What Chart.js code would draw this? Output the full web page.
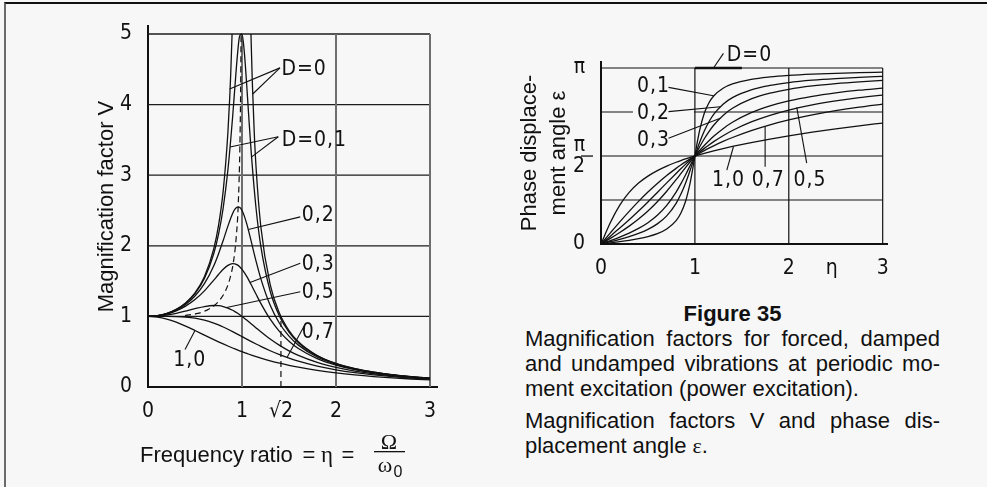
<!DOCTYPE html>
<html>
<head>
<meta charset="utf-8">
<script src="https://cdn.jsdelivr.net/npm/chart.js@4.4.1/dist/chart.umd.min.js"></script>
<style>
html,body{margin:0;padding:0;background:#f7f7f7;}
body{width:987px;height:487px;position:relative;overflow:hidden;}
#frame{position:absolute;left:4px;top:2px;width:1100px;height:700px;border-top:2px solid #111;border-left:2px solid #6a6a6a;}
#c1{position:absolute;left:0;top:0;}
#c2{position:absolute;left:480px;top:0;}
#cap{position:absolute;left:525px;top:301px;width:415px;font-family:'Liberation Sans',Arial,sans-serif;font-size:22px;line-height:25px;color:#111;}
#cap .t{text-align:center;font-weight:bold;}
#cap .j{text-align:justify;text-align-last:justify;}
#cap .p2{margin-top:7px;}
#cap .g{font-family:'Liberation Serif','DejaVu Serif',serif;}
</style>
</head>
<body>
<div id="frame"></div>
<canvas id="c1" width="480" height="487"></canvas>
<canvas id="c2" width="507" height="290"></canvas>
<div id="cap">
  <div class="t">Figure 35</div>
  <div class="j">Magnification factors for forced, damped</div>
  <div class="j">and undamped vibrations at periodic mo-</div>
  <div>ment excitation (power excitation).</div>
  <div class="j p2">Magnification factors V and phase dis-</div>
  <div>placement angle <span class="g">ε</span>.</div>
</div>
<script>
// ---------- Left chart: magnification factor V over eta ----------
const etaGrid = [0,0.1,0.2,0.3,0.4,0.5,0.6,0.7,0.75,0.8,0.85,0.9,0.925,0.95,0.975,1.0,1.025,1.05,1.075,1.1,1.15,1.2,1.3,1.4,1.5,1.6,1.8,2.0,2.2,2.4,2.6,2.8,3.0];
const vD01 = [1,1.0099,1.0408,1.0965,1.1851,1.3216,1.536,1.891,2.162,2.538,3.073,3.82,4.26,4.68,4.97,5.0,4.736,4.28,3.768,3.288,2.524,1.995,1.356,1.0,0.778,0.628,0.4408,0.3304,0.2587,0.209,0.1729,0.1457,0.1246];
const vD02 = [1,1.0093,1.0381,1.0895,1.1695,1.2883,1.463,1.7188,1.8851,2.0761,2.2785,2.4566,2.5178,2.549,2.5438,2.5,2.4206,2.313,2.1868,2.0511,1.78,1.5357,1.1574,0.8998,0.7212,0.5931,0.425,0.3221,0.2538,0.2059,0.1708,0.1443,0.1236];
const vD03 = [1,1.0083,1.0336,1.078,1.1447,1.238,1.3618,1.5136,1.5933,1.6667,1.7223,1.7469,1.7438,1.7293,1.7033,1.6667,1.6205,1.5667,1.5071,1.4438,1.3129,1.1851,0.9603,0.7839,0.6492,0.5459,0.4021,0.3095,0.2463,0.2011,0.1676,0.142,0.122];
const vD05 = [1,1.005,1.0198,1.0436,1.0748,1.1094,1.1399,1.1546,1.1517,1.1399,1.1184,1.0872,1.0681,1.0471,1.0243,1.0,0.9744,0.9479,0.9206,0.893,0.8373,0.7824,0.6795,0.5891,0.5121,0.4475,0.348,0.2774,0.226,0.1876,0.1582,0.1353,0.117];
const vD07 = [1,1.0002,1.0,0.9978,0.9905,0.9747,0.9469,0.9052,0.8791,0.85,0.8184,0.7848,0.7675,0.7499,0.7321,0.7143,0.6964,0.6786,0.6609,0.6434,0.609,0.5758,0.5138,0.4582,0.4092,0.3663,0.2966,0.2437,0.2031,0.1716,0.1468,0.1268,0.1107];
const vD10 = [1,0.9901,0.9615,0.9174,0.8621,0.8,0.7353,0.6711,0.64,0.6098,0.5806,0.5525,0.5389,0.5256,0.5127,0.5,0.4877,0.4756,0.4639,0.4525,0.4305,0.4098,0.3717,0.3378,0.3077,0.2809,0.2358,0.2,0.1712,0.1479,0.1289,0.1131,0.1];
// undamped D=0, two branches (clipped at V=5)
const etaD0Low  = [0,0.1,0.2,0.3,0.4,0.5,0.6,0.7,0.75,0.8,0.85,0.87,0.88,0.8944];
const vD0Low    = [1,1.0101,1.0417,1.0989,1.1905,1.3333,1.5625,1.9608,2.2857,2.7778,3.6036,4.113,4.433,5.0];
const etaD0High = [1.0954,1.11,1.13,1.15,1.2,1.3,1.4,1.5,1.6,1.8,2.0,2.2,2.4,2.6,2.8,3.0];
const vD0High   = [5.0,4.308,3.611,3.101,2.2727,1.4493,1.0417,0.8,0.641,0.4464,0.3333,0.2604,0.2101,0.1736,0.1462,0.125];
// dashed locus of the resonance peaks
const etaPeak = [0.394,0.529,0.628,0.707,0.771,0.825,0.869,0.906,0.935,0.959,0.977,0.9855,0.99];
const vPeak   = [1.012,1.042,1.089,1.155,1.244,1.364,1.525,1.747,2.066,2.552,3.371,4.197,5.0];
// dashed marker at eta = sqrt(2)
const etaSqrt2 = [1.4142,1.4142];
const vSqrt2   = [0,1];
const leftXTicks = [0,1,1.4142,2,3];
const leftXLabels = ['0','1','√2','2','3'];
const leftYTicks = [0,1,2,3,4,5];
const leftYLabels = ['0','1','2','3','4','5'];

// ---------- Right chart: phase displacement angle (in units of pi) ----------
const etaPhase = [0,0.1,0.2,0.3,0.4,0.5,0.6,0.7,0.8,0.85,0.9,0.95,0.975,1.0,1.025,1.05,1.1,1.15,1.2,1.3,1.4,1.6,1.8,2.0,2.25,2.5,2.75,3.0];
const epsC1 = [0,0.0064,0.0133,0.021,0.0302,0.0422,0.059,0.0853,0.1331,0.175,0.2414,0.3491,0.421,0.5,0.577,0.6445,0.7426,0.8028,0.8411,0.8852,0.9097,0.9356,0.9493,0.9578,0.9649,0.9698,0.9734,0.9762];
const epsC2 = [0,0.0129,0.0265,0.0417,0.0599,0.083,0.1142,0.1599,0.2313,0.2821,0.3455,0.4201,0.4599,0.5,0.5391,0.5761,0.6417,0.6947,0.7362,0.7944,0.8319,0.8761,0.901,0.917,0.9306,0.9401,0.9471,0.9526];
const epsC3 = [0,0.0193,0.0396,0.0622,0.0886,0.1211,0.1631,0.2194,0.2952,0.3414,0.3923,0.4461,0.4732,0.5,0.5262,0.5514,0.5981,0.6391,0.6747,0.7306,0.7712,0.8244,0.8569,0.8789,0.8979,0.9114,0.9216,0.9296];
const epsC4 = [0,0.032,0.0654,0.1014,0.1416,0.1872,0.2397,0.2996,0.3653,0.3995,0.4338,0.4674,0.4839,0.5,0.5157,0.531,0.56,0.5869,0.612,0.6553,0.6914,0.746,0.7845,0.8128,0.8389,0.8584,0.8737,0.8858];
const epsC5 = [0,0.0447,0.0903,0.1377,0.1872,0.239,0.2928,0.3474,0.4009,0.427,0.4523,0.4767,0.4885,0.5,0.5112,0.5222,0.5432,0.5629,0.5815,0.6153,0.645,0.6936,0.7313,0.761,0.7901,0.8128,0.8311,0.8461];
const epsC6 = [0,0.0634,0.1257,0.1856,0.2423,0.2952,0.344,0.3888,0.4296,0.4485,0.4665,0.4837,0.4919,0.5,0.5079,0.5155,0.5303,0.5443,0.5577,0.5826,0.6051,0.6443,0.6772,0.7048,0.7337,0.7577,0.7779,0.7952];
const epsC7 = [0,0.1223,0.2211,0.2934,0.3462,0.3858,0.417,0.4427,0.4644,0.4741,0.4832,0.4918,0.496,0.5,0.504,0.5078,0.5152,0.5223,0.5291,0.542,0.554,0.576,0.596,0.6142,0.6351,0.6538,0.6713,0.6872];
const etaPhaseD0 = [1,1.5];
const epsPhaseD0 = [1,1];
const rightXTicks = [0,1,2,2.457,3];
const rightXLabels = ['0','1','2','η','3'];
const rightYTicks = [0,0.5,1];
const rightYLabels = ['0',['π','2'],'π'];

// ---------- styles ----------
const ISO = "'Liberation Sans Narrow','DejaVu Sans Condensed',sans-serif";
const SANS = "'Liberation Sans',Arial,sans-serif";
const SERIF = "'Liberation Serif','DejaVu Serif',serif";
const INK = '#111111';
const BG = '#f7f7f7';

function pts(xs, ys){ return xs.map((x,i)=>({x:x, y:ys[i]})); }
function curve(label, xs, ys, extra){
  return Object.assign({label:label, data:pts(xs,ys), borderColor:INK, borderWidth:1.3,
    pointRadius:0, fill:false, cubicInterpolationMode:'monotone'}, extra||{});
}

function gridPlugin(spec){
  return {id:'grid_'+spec.id, beforeDatasetsDraw(chart){
    const {ctx, scales:{x,y}} = chart;
    ctx.save();
    spec.h.forEach(v=>{
      const py = y.getPixelForValue(v);
      ctx.strokeStyle = spec.hColor; ctx.lineWidth = spec.hWidth;
      ctx.beginPath(); ctx.moveTo(x.getPixelForValue(spec.x0), py); ctx.lineTo(x.getPixelForValue(spec.x1), py); ctx.stroke();
    });
    spec.v.forEach(v=>{
      const px = x.getPixelForValue(v);
      ctx.strokeStyle = spec.vColor; ctx.lineWidth = spec.vWidth;
      ctx.beginPath(); ctx.moveTo(px, y.getPixelForValue(spec.y0)); ctx.lineTo(px, y.getPixelForValue(spec.y1)); ctx.stroke();
    });
    ctx.restore();
  }};
}

function notePlugin(id, notes){
  return {id:'notes_'+id, afterDatasetsDraw(chart){
    const {ctx, scales:{x,y}} = chart;
    ctx.save();
    ctx.font = '21px ' + ISO;
    try{ ctx.letterSpacing = '1px'; }catch(e){}
    ctx.textBaseline = 'middle'; ctx.textAlign = 'left';
    notes.forEach(n=>{
      const tx = x.getPixelForValue(n.at[0]), ty = y.getPixelForValue(n.at[1]);
      const w = ctx.measureText(n.text).width;
      if (n.mask){
        ctx.fillStyle = BG;
        ctx.fillRect(tx-4, ty-11, w+8+(n.padR||0), 22);
      }
      ctx.fillStyle = INK;
      ctx.fillText(n.text, tx, ty+1);
      ctx.strokeStyle = INK; ctx.lineWidth = 1.1;
      n.leaders.forEach(l=>{
        ctx.beginPath();
        ctx.moveTo(x.getPixelForValue(l[0]), y.getPixelForValue(l[1]));
        ctx.lineTo(x.getPixelForValue(l[2]), y.getPixelForValue(l[3]));
        ctx.stroke();
      });
    });
    ctx.restore();
  }};
}

const tickFont = {family: ISO, size: 21, lineHeight: 1.0};

// ---------- Left chart ----------
const leftNotes = [
  {text:'D=0',   at:[1.42,4.51],  leaders:[[1.404,4.52,0.868,4.22],[1.404,4.52,1.114,4.15]]},
  {text:'D=0,1', at:[1.422,3.51], leaders:[[1.386,3.545,0.872,3.40],[1.386,3.545,1.103,3.26]]},
  {text:'0,2',   at:[1.635,2.436],leaders:[[1.62,2.41,1.067,2.23]]},
  {text:'0,3',   at:[1.635,1.752],leaders:[[1.62,1.752,1.085,1.48]]},
  {text:'0,5',   at:[1.635,1.35], leaders:[[1.62,1.35,0.837,1.125]]},
  {text:'0,7',   at:[1.635,0.783],leaders:[[1.66,0.86,1.48,0.42]]},
  {text:'1,0',   at:[0.269,0.382],leaders:[[0.394,0.53,0.5,0.8]]}
];

const leftTitlePlugin = {id:'leftTitle', afterDraw(chart){
  const ctx = chart.ctx;
  ctx.save();
  ctx.fillStyle = INK; ctx.textBaseline = 'alphabetic';
  ctx.font = '22px ' + SANS; ctx.textAlign = 'left';
  ctx.fillText('Frequency ratio', 140, 462);
  ctx.textAlign = 'center';
  ctx.fillText('=', 309, 462);
  ctx.font = '23px ' + SERIF;
  ctx.fillText('η', 327, 462);
  ctx.font = '22px ' + SANS;
  ctx.fillText('=', 348, 462);
  ctx.font = '22px ' + SERIF;
  ctx.fillText('Ω', 389, 449);
  ctx.fillRect(374, 451, 31, 1.3);
  ctx.fillText('ω', 385, 472);
  ctx.font = '16px ' + SANS;
  ctx.fillText('0', 398, 477);
  ctx.restore();
}};

new Chart(document.getElementById('c1'), {
  type:'line',
  data:{datasets:[
    curve('D=0 (below resonance)', etaD0Low, vD0Low),
    curve('D=0 (above resonance)', etaD0High, vD0High),
    curve('D=0,1', etaGrid, vD01),
    curve('D=0,2', etaGrid, vD02),
    curve('D=0,3', etaGrid, vD03),
    curve('D=0,5', etaGrid, vD05),
    curve('D=0,7', etaGrid, vD07),
    curve('D=1,0', etaGrid, vD10),
    curve('Resonance peaks', etaPeak, vPeak, {borderDash:[6,4], borderWidth:1.2}),
    curve('η = √2', etaSqrt2, vSqrt2, {borderDash:[6,4], borderWidth:1.2, cubicInterpolationMode:'default'})
  ]},
  options:{
    responsive:false, animation:false, devicePixelRatio:1,
    layout:{padding:{left:90, top:26, right:43, bottom:0}},
    plugins:{legend:{display:false}, tooltip:{enabled:false}},
    scales:{
      x:{type:'linear', min:0, max:3.0745,
        afterBuildTicks(s){ s.ticks = leftXTicks.map(v=>({value:v})); },
        afterFit(s){ s.height = 100; },
        ticks:{callback:(v,i)=>leftXLabels[i], autoSkip:false, maxRotation:0, padding:6, color:INK, font:tickFont},
        grid:{display:false}, border:{display:true, color:INK, width:2}},
      y:{type:'linear', min:0, max:5.113,
        afterBuildTicks(s){ s.ticks = leftYTicks.map(v=>({value:v})); },
        afterFit(s){ s.width = 58; },
        ticks:{callback:(v,i)=>leftYLabels[i], autoSkip:false, padding:8, color:INK, font:tickFont},
        title:{display:true, text:'Magnification factor V', color:INK, font:{family:SANS, size:22}, padding:{top:4, bottom:0}},
        grid:{display:false}, border:{display:true, color:INK, width:2}}
    }
  },
  plugins:[
    gridPlugin({id:'l', h:[1,2,3,4,5], x0:0, x1:3, hColor:'#1c1c1c', hWidth:1.3,
                v:[1,2,3], y0:0, y1:5, vColor:'#6e6e6e', vWidth:2}),
    notePlugin('l', leftNotes),
    leftTitlePlugin
  ]
});

// ---------- Right chart ----------
const rightNotes = [
  {text:'D=0', at:[1.34,1.074], leaders:[[1.304,1.083,1.198,1.0]]},
  {text:'0,1', at:[0.383,0.898], leaders:[[0.719,0.89,1.198,0.842]]},
  {text:'0,2', at:[0.383,0.748], leaders:[[0.719,0.752,1.27,0.78]], mask:true, padR:20},
  {text:'0,3', at:[0.383,0.591], leaders:[[0.719,0.601,1.27,0.714]]},
  {text:'1,0', at:[1.181,0.364], leaders:[[1.34,0.42,1.411,0.554]]},
  {text:'0,7', at:[1.606,0.364], leaders:[[1.748,0.439,1.748,0.668]]},
  {text:'0,5', at:[2.049,0.364], leaders:[[2.191,0.459,2.085,0.776]]}
];

const fracPlugin = {id:'fracBar', afterDraw(chart){
  const {ctx, chartArea, scales:{y}} = chart;
  const py = y.getPixelForValue(0.5);
  ctx.save();
  ctx.fillStyle = INK;
  ctx.fillRect(chartArea.left - 20, Math.round(py) - 0.6, 12, 1.3);
  ctx.restore();
}};

new Chart(document.getElementById('c2'), {
  type:'line',
  data:{datasets:[
    curve('D=0', etaPhaseD0, epsPhaseD0, {borderWidth:2.6, cubicInterpolationMode:'default'}),
    curve('D=0,1', etaPhase, epsC1),
    curve('D=0,2', etaPhase, epsC2),
    curve('D=0,3', etaPhase, epsC3),
    curve('(unlabelled)', etaPhase, epsC4),
    curve('D=0,5', etaPhase, epsC5),
    curve('D=0,7', etaPhase, epsC6),
    curve('D=1,0', etaPhase, epsC7)
  ]},
  options:{
    responsive:false, animation:false, devicePixelRatio:1,
    layout:{padding:{left:30, top:62, right:100, bottom:0}},
    plugins:{legend:{display:false}, tooltip:{enabled:false}},
    scales:{
      x:{type:'linear', min:0, max:3.046,
        afterBuildTicks(s){ s.ticks = rightXTicks.map(v=>({value:v})); },
        afterFit(s){ s.height = 46; },
        ticks:{callback:(v,i)=>rightXLabels[i], autoSkip:false, maxRotation:0, padding:6, color:INK, font:tickFont},
        grid:{display:false}, border:{display:true, color:INK, width:2}},
      y:{type:'linear', min:0, max:1.034,
        afterBuildTicks(s){ s.ticks = rightYTicks.map(v=>({value:v})); },
        afterFit(s){ s.width = 91; },
        ticks:{callback:(v,i)=>rightYLabels[i], autoSkip:false, padding:8, color:INK, font:tickFont},
        title:{display:true, text:['Phase displace-','ment angle ε'], color:INK, font:{family:SANS, size:22, lineHeight:1.3}, padding:{top:6, bottom:0}},
        grid:{display:false}, border:{display:true, color:INK, width:2}}
    }
  },
  plugins:[
    gridPlugin({id:'r', h:[0.25,0.5,0.75,1], x0:0, x1:3, hColor:INK, hWidth:1.2,
                v:[1,2,3], y0:0, y1:1, vColor:INK, vWidth:1.2}),
    notePlugin('r', rightNotes),
    fracPlugin
  ]
});
</script>
</body>
</html>
